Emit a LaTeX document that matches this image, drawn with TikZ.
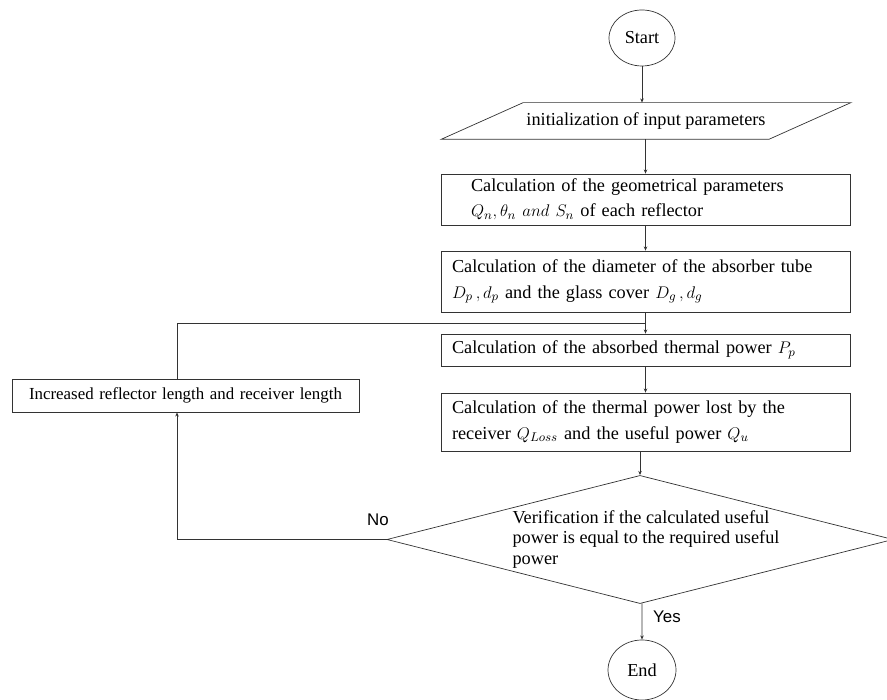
\documentclass[tikz,border=0pt]{standalone}
\usepackage{fontspec}
\setmainfont{Liberation Serif}
\newfontfamily\labelfont{Liberation Sans}
\usetikzlibrary{positioning,arrows.meta,shapes.geometric}
\definecolor{lineaGris}{HTML}{333333}
\tikzset{
  flow/.style={-{Stealth[length=3pt,width=2.5pt]}, draw=lineaGris},
  terminal/.style={shape=ellipse, draw=lineaGris, inner sep=0pt},
  ioblock/.style={rectangle, minimum width=8.175cm, minimum height=0.9cm, inner sep=0pt},
  procbox/.style={draw=lineaGris, rectangle, align=left, inner ysep=0pt,
    inner xsep=0.275cm, text width=9.675cm},
  decision/.style={shape=diamond, draw=lineaGris, aspect=3.95, inner sep=0pt,
    align=left, font=\fontsize{13}{14.5}\selectfont},
  answer/.style={font=\labelfont\fontsize{12}{14}\selectfont, inner sep=0pt}
}

\begin{document}
\begin{tikzpicture}[font=\fontsize{13}{18}\selectfont, line width=0.5pt]
    \useasboundingbox (0,0) rectangle (22.175,17.5);

    % Bloques
    \node[terminal, minimum width=1.65cm, minimum height=1.4cm] (start) at (16.05,16.55) {Start};
    \node[ioblock] (init) at (16.15,14.475) {initialization of input parameters};
    \draw[draw=lineaGris] ([xshift=-1.025cm]init.south west) -- ([xshift=1.025cm]init.north west)
        -- ([xshift=1.025cm]init.north east) -- ([xshift=-1.025cm]init.south east) -- cycle;
    \node[procbox, minimum height=1.275cm, inner xsep=0.75cm, text width=8.725cm] (geom) at (16.1375,12.5125)
        {Calculation of the geometrical parameters\\ $Q_n, \theta_n\ and\ S_n$ of each reflector};
    \node[procbox, minimum height=1.525cm] (diam) at (16.1375,10.4625)
        {Calculation of the diameter of the absorber tube\\ $D_p\,, d_p$ and the glass cover $D_g\,, d_g$};
    \node[procbox, minimum height=0.8cm] (absorb) at (16.1375,8.75)
        {Calculation of the absorbed thermal power $P_p$};
    \node[procbox, minimum height=1.45cm] (loss) at (16.1375,6.95)
        {Calculation of the thermal power lost by the\\ receiver $Q_{Loss}$ and the useful power $Q_u$};
    \node[decision] (verify) at (16.0,4.0125)
        {\hspace*{0.3cm}Verification if the calculated useful\\ \hspace*{0.3cm}power is equal to the required useful\\ \hspace*{0.3cm}power};
    \node[terminal, minimum width=1.7cm, minimum height=1.5cm] (finish) at (16.05,0.75) {End};
    \node[procbox, font=\fontsize{12}{14}\selectfont, minimum height=0.825cm, inner xsep=0.2cm,
        text width=8.275cm, align=center] (grow) at (4.6375,7.6125)
        {Increased reflector length and receiver length};

    % Etiquetas
    \node[answer] (noLbl) at (9.45,4.5) {No};
    \node[answer] (yesLbl) at (16.675,2.075) {Yes};

    % Conectores
    \coordinate (loopX) at (4.425,0);
    \coordinate (joint) at (16.1375,9.425);
    \draw[flow] (start) -- (start |- init.north);
    \draw[flow] (init.south -| geom) -- (geom);
    \draw[flow] (geom) -- (diam);
    \draw[flow] (diam) -- (absorb);
    \draw[flow] (absorb) -- (loss);
    \draw[flow] (loss.south -| verify) -- (verify);
    \draw[flow] (verify) -- (verify.south -| finish) -- (finish);
    \draw[flow] (verify.west) -| (loopX |- grow.south);
    \draw[draw=lineaGris] (loopX |- grow.north) |- (joint);
\end{tikzpicture}
\end{document}
